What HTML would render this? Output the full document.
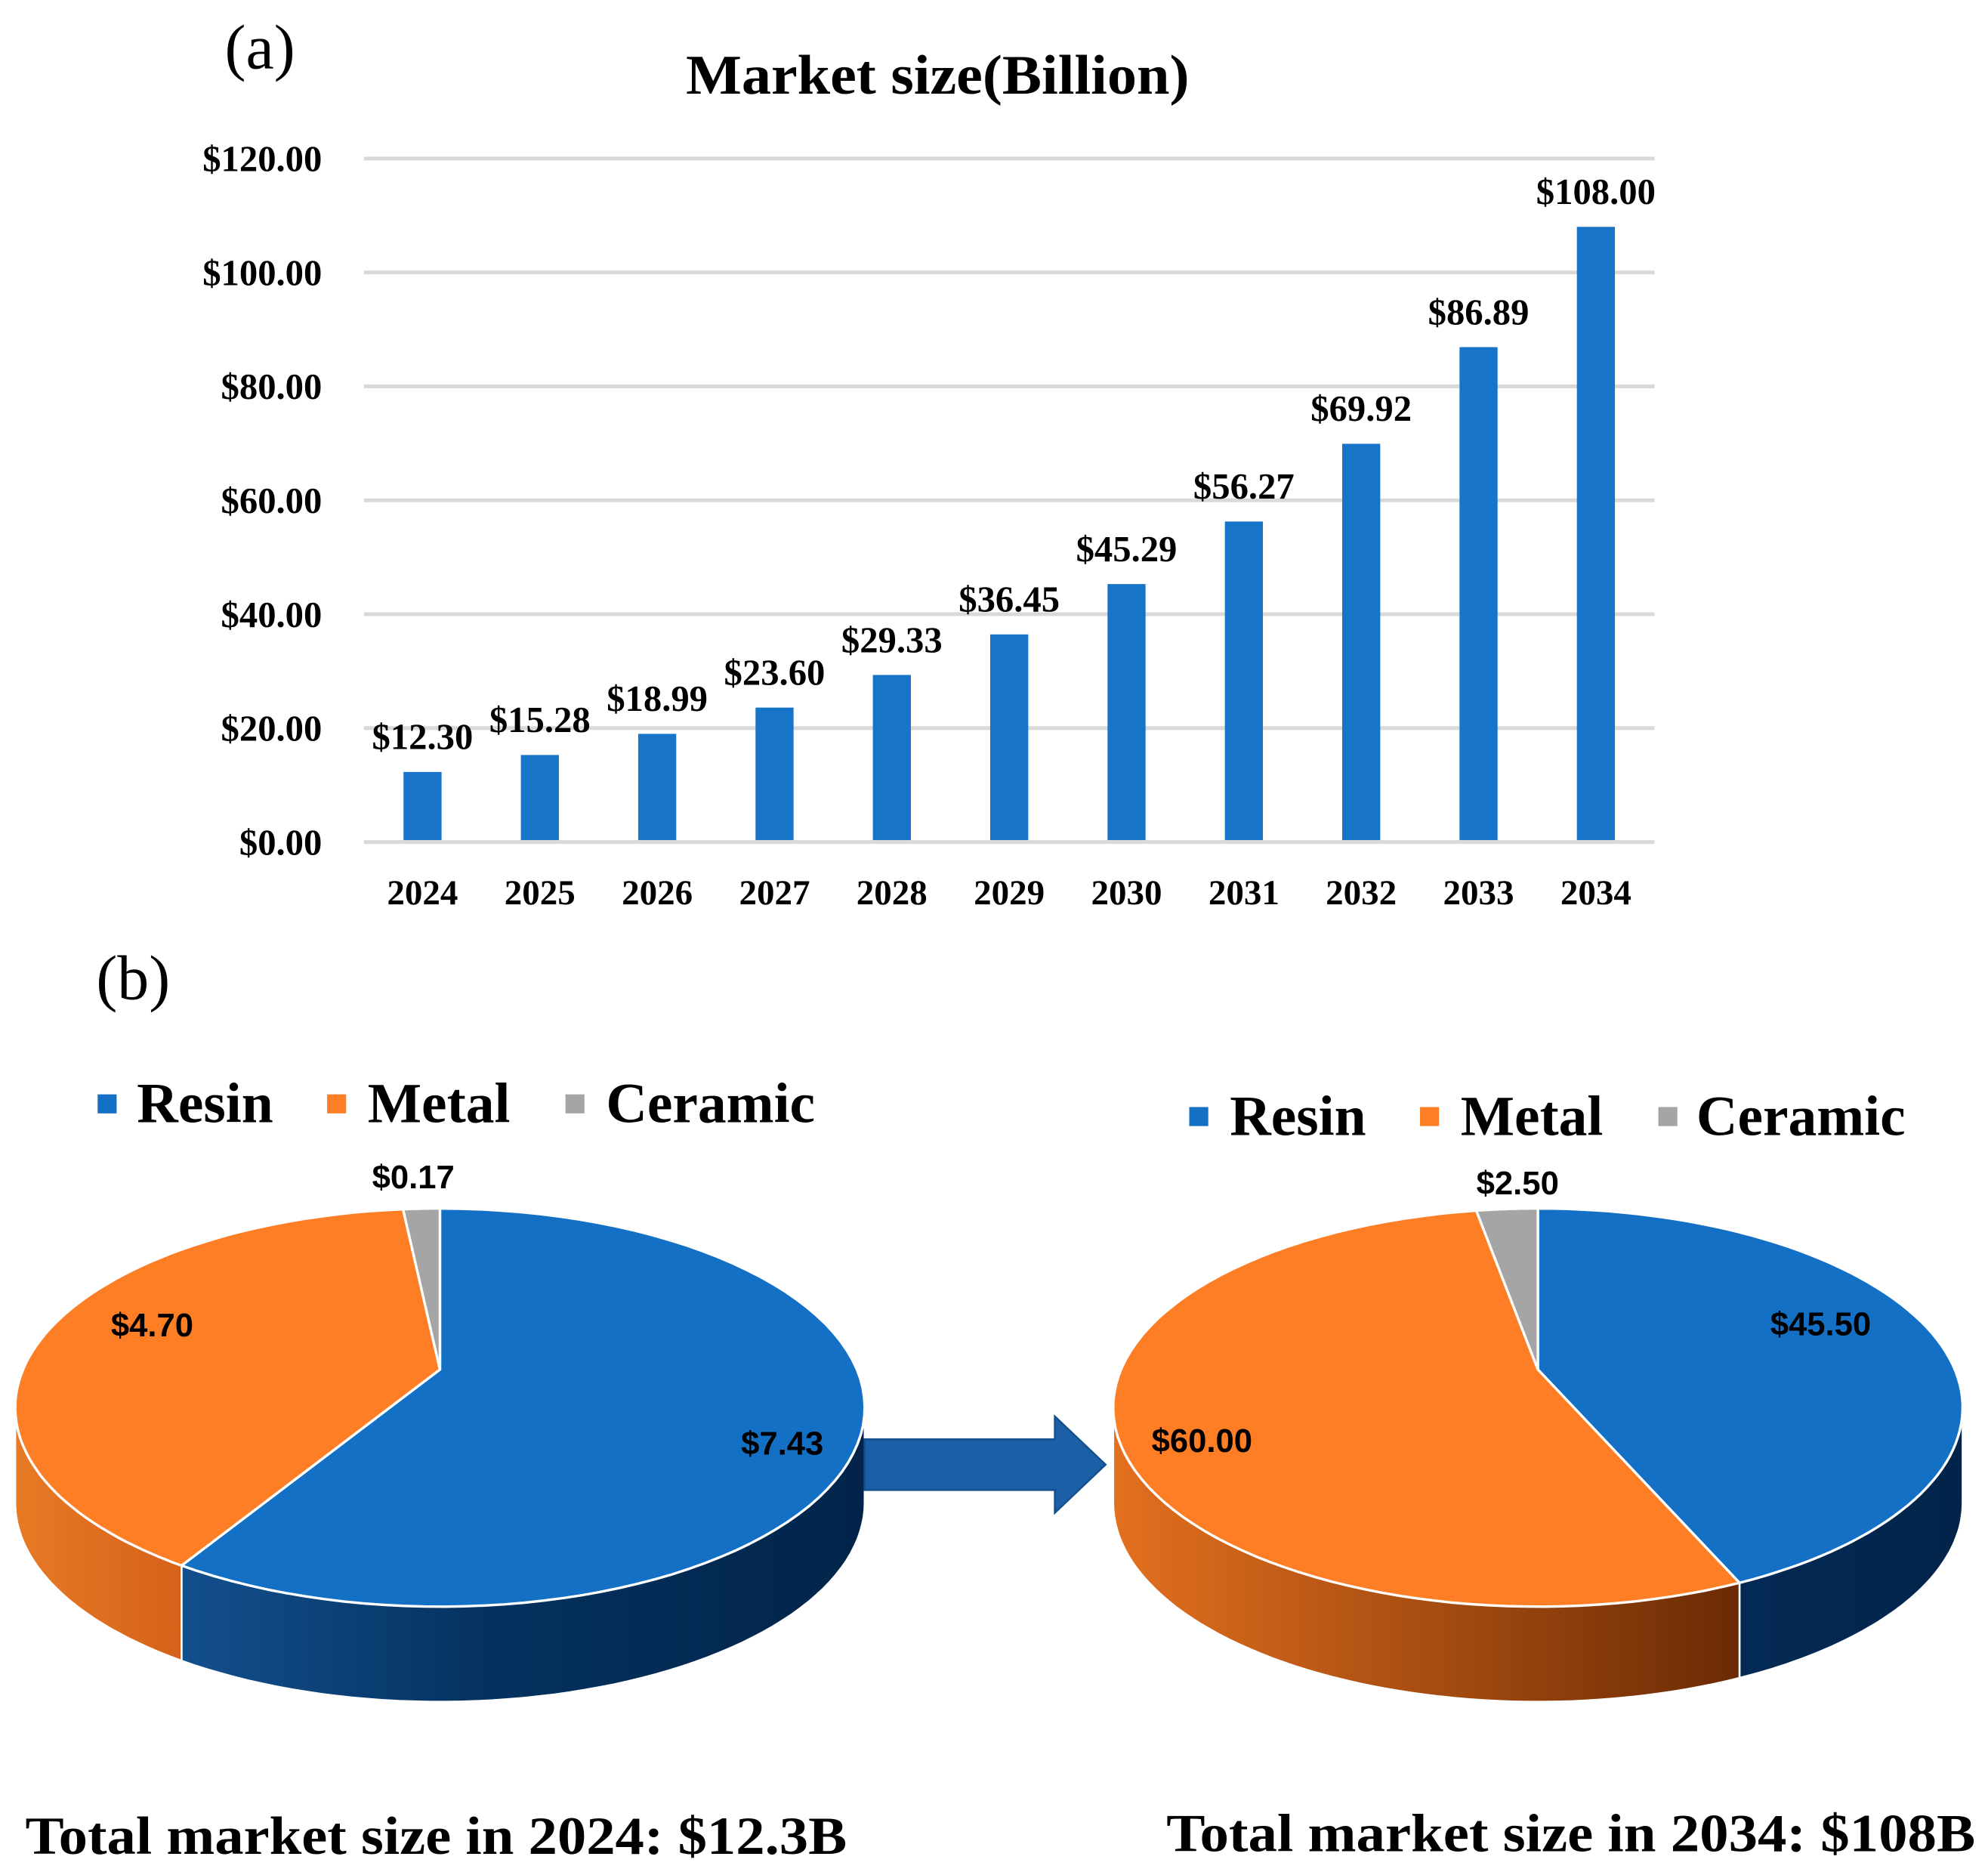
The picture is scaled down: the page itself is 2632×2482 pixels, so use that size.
<!DOCTYPE html>
<html><head><meta charset="utf-8"><style>
html,body{margin:0;padding:0;background:#fff}
svg{display:block}
text{font-family:"Liberation Serif",serif;font-weight:bold;fill:#000}
</style></head><body>
<svg id="fig" width="2632" height="2482" viewBox="0 0 1568 1478.6" xmlns="http://www.w3.org/2000/svg">
<defs>
<linearGradient id="gResinSide" x1="0" x2="1" y1="0" y2="0">
<stop offset="0" stop-color="#134f8e"/><stop offset="0.45" stop-color="#04325f"/><stop offset="1" stop-color="#02244a"/></linearGradient>
<linearGradient id="gMetalSide" x1="0" x2="1" y1="0" y2="0">
<stop offset="0" stop-color="#e3701f"/><stop offset="1" stop-color="#6b2a04"/></linearGradient>
<linearGradient id="gMetalSideL" x1="0" x2="1" y1="0" y2="0">
<stop offset="0" stop-color="#e87a25"/><stop offset="1" stop-color="#d4621a"/></linearGradient>
<linearGradient id="gResinSideR" x1="0" x2="1" y1="0" y2="0">
<stop offset="0" stop-color="#032a55"/><stop offset="1" stop-color="#02244a"/></linearGradient>
</defs>
<text x="205" y="54" text-anchor="middle" font-size="50" style="font-weight:normal">(a)</text>
<text x="541" y="74" font-size="44" textLength="397" lengthAdjust="spacingAndGlyphs">Market size(Billion)</text>
<g id="bars"></g>
<text x="105" y="788" text-anchor="middle" font-size="50" style="font-weight:normal">(b)</text>
<g id="pies"></g>
<g>
<path d="M682,1135 L832,1135 L832,1117 L872,1155 L832,1193 L832,1175 L682,1175 Z" fill="#1b5fa6" stroke="#15508e" stroke-width="1.5"/>
</g>
<text x="20" y="1462" font-size="42" textLength="648" lengthAdjust="spacingAndGlyphs">Total market size in 2024: $12.3B</text>
<text x="920" y="1460" font-size="42" textLength="638" lengthAdjust="spacingAndGlyphs">Total market size in 2034: $108B</text>
</svg>
<script>
const years = ['2024','2025','2026','2027','2028','2029','2030','2031','2032','2033','2034'];
const marketValues = [12.30,15.28,18.99,23.60,29.33,36.45,45.29,56.27,69.92,86.89,108.00];
const yTicks = [0,20,40,60,80,100,120];
const pieCategories = ['Resin','Metal','Ceramic'];
const pie2024 = [7.43,4.70,0.17];
const pie2034 = [45.50,60.00,2.50];
const pieColors = ['#1470c4','#fd7e24','#a5a5a5'];

const NS='http://www.w3.org/2000/svg';
function mk(tag,attrs,parent,txt){const e=document.createElementNS(NS,tag);for(const k in attrs)e.setAttribute(k,attrs[k]);if(txt!==undefined)e.textContent=txt;parent.appendChild(e);return e;}
const fmt=v=>'$'+v.toFixed(2);

const bars=document.getElementById('bars');
const x0=287,x1=1305,yBase=664,yTop=125,yMax=120;
const yS=v=>yBase-(v/yMax)*(yBase-yTop);
const step=(x1-x0)/years.length;
const xC=i=>x0+step*(i+0.5);
yTicks.forEach(t=>{
  const l=mk('line',{x1:x0,x2:x1,y1:yS(t),y2:yS(t),stroke:'#d9d9d9','stroke-width':3},bars);
  
  
  const tx=mk('text',{x:254,y:yS(t)+10,'text-anchor':'end','font-size':29},bars,fmt(t));
  
  
});
years.forEach((yr,i)=>{
  const v=marketValues[i];
  const r=mk('rect',{x:xC(i)-15,y:yS(v),width:30,height:yBase-yS(v)-1.5,fill:'#1874c9'},bars);
  
  
  const lb=mk('text',{x:xC(i),y:yS(v)-18,'text-anchor':'middle','font-size':29},bars,fmt(v));
  
  
  const xt=mk('text',{x:xC(i),y:713,'text-anchor':'middle','font-size':28},bars,yr);
  
  
});

const pies=document.getElementById('pies');
const rx=335,ry=157,depth=75;
function pt(cx,cy,th){const r=th*Math.PI/180;return [cx+rx*Math.sin(r),cy-ry*Math.cos(r)];}
function drawPie(cx,cy,apexY,vals,name,sideFills,labels){
  const g=mk('g',{},pies);
  
  
  const tot=vals.reduce((a,b)=>a+b,0);
  const angs=[];let a=0;
  vals.forEach(v=>{angs.push([a,a+v/tot*360]);a+=v/tot*360;});
  angs.forEach(([s,e],i)=>{
    const a0=Math.max(s,90),a1=Math.min(e,270);
    if(a1<=a0)return;
    let d='';const N=60;
    for(let k=0;k<=N;k++){const p=pt(cx,cy,a0+(a1-a0)*k/N);d+=(k?'L':'M')+p[0].toFixed(1)+','+p[1].toFixed(1);}
    for(let k=N;k>=0;k--){const p=pt(cx,cy,a0+(a1-a0)*k/N);d+='L'+p[0].toFixed(1)+','+(p[1]+depth).toFixed(1);}
    d+='Z';
    const s2=mk('path',{d:d,fill:sideFills[i],stroke:'#ffffff','stroke-width':1.5},g);
    
    
  });
  angs.forEach(([s,e],i)=>{
    let d='M'+cx+','+apexY;const N=80;
    for(let k=0;k<=N;k++){const p=pt(cx,cy,s+(e-s)*k/N);d+='L'+p[0].toFixed(1)+','+p[1].toFixed(1);}
    d+='Z';
    const sl=mk('path',{d:d,fill:pieColors[i],stroke:'#ffffff','stroke-width':2,'stroke-linejoin':'round'},g);
    
    
  });
  labels.forEach((L,i)=>{
    const t=mk('text',{x:L[0],y:L[1],'text-anchor':'middle','font-size':26,style:'font-family:"Liberation Sans",sans-serif'},g,fmt(vals[i]));
    
    
  });
}
drawPie(347,1110,1080,pie2024,'pie-2024',['url(#gResinSide)','url(#gMetalSideL)','#a5a5a5'],[[617,1147],[120,1054],[326,937]]);
drawPie(1213,1110,1080,pie2034,'pie-2034',['url(#gResinSideR)','url(#gMetalSide)','#a5a5a5'],[[1436,1053],[948,1145],[1197,942]]);

function legend(ys,items,name){
  const g=mk('g',{},pies);
  
  
  items.forEach((it,i)=>{
    const r=mk('rect',{x:it[0],y:ys-22,width:15,height:15,fill:pieColors[i]},g);
    
    
    const t=mk('text',{x:it[1],y:ys,'font-size':45},g,pieCategories[i]);
    
    
  });
}
legend(885,[[77,108],[258,290],[446,478]],'legend-2024');
legend(895,[[938,970],[1120,1152],[1308,1338]],'legend-2034');
</script>
</body></html>
